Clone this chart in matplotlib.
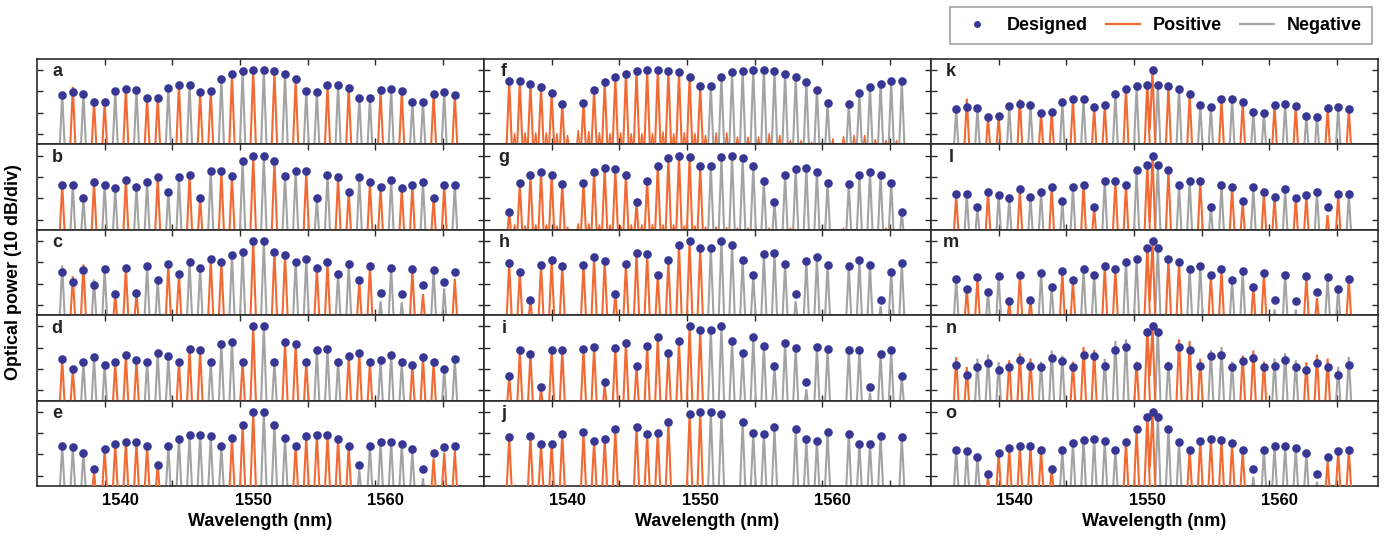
import numpy as np
import matplotlib
matplotlib.use("Agg")
import matplotlib.pyplot as plt
from matplotlib.lines import Line2D

nan = float("nan")

# ---------------- data ----------------
wavelength = [1535.6, 1536.4, 1537.2, 1538.0, 1538.8, 1539.6, 1540.4, 1541.2,
              1542.0, 1542.8, 1543.6, 1544.4, 1545.2, 1546.0, 1546.8, 1547.6,
              1548.4, 1549.2, 1550.0, 1550.8, 1551.6, 1552.4, 1553.2, 1554.0,
              1554.8, 1555.6, 1556.4, 1557.2, 1558.0, 1558.8, 1559.6, 1560.4,
              1561.2, 1562.0, 1562.8, 1563.6, 1564.4, 1565.2]
center_wavelength = 1550.4          # extra centre tap in panels k-o

a_designed = [-11.5, -10.2, -11.0, -14.9, -14.8, -10.0, -8.9, -9.4, -13.3, -12.9, -8.2, -6.8, -6.9, -10.4, -9.6, -4.2, -1.9, -0.5, 0.0,
              0.0, -0.5, -1.9, -4.2, -9.6, -10.4, -6.9, -6.8, -8.2, -12.9, -13.3, -9.4, -8.9, -10.0, -14.8, -14.9, -11.0, -10.2, -11.5]
a_sign = "-+-++-+-++-+-++-+-+" "-+-+--+-+--+-+--+-+"
a_fix = {1: -7.8}

b_designed = [-13.7, -13.7, -19.9, -12.6, -13.7, -15.4, -11.3, -14.6, -12.6, -10.2, -17.0, -10.2, -8.9, -19.9, -7.4, -7.4, -9.4, -2.4, 0.0,
              0.0, -2.4, -9.4, -7.4, -7.4, -19.9, -8.9, -10.2, -17.0, -10.2, -12.6, -14.6, -11.3, -15.4, -13.7, -12.6, -19.9, -13.7, -13.7]
b_sign = "+--+--+--+--++-++-+" "-+--+--++-++-++-++-"
b_fix = {}

c_designed = [-14.6, -19.2, -13.8, -20.7, -13.3, -24.8, -12.6, -24.2, -11.8, -18.5, -11.0, -15.4, -10.0, -12.9, -8.6, -9.7, -6.4, -5.2, 0.0,
              0.0, -5.2, -6.4, -9.7, -8.6, -12.9, -10.0, -15.4, -11.0, -18.5, -11.8, -24.2, -12.6, -24.8, -13.3, -20.7, -13.8, -19.2, -14.6]
c_sign = "-++--+++--++--++--+" "-++--++--++---++--+"
c_fix = {0: -11.5, 1: -16.5, 2: -11.0, 3: -18.1, 30: -28.3, 32: -28.7, 34: -24.8, 36: -22.3, 37: -17.7}

d_designed = [-15.5, -19.9, -16.8, -14.6, -17.9, -16.8, -13.5, -15.9, -16.6, -12.4, -13.8, -16.5, -10.8, -11.1, -16.5, -8.5, -7.5, -16.5, 0.0,
              0.0, -16.5, -7.5, -8.5, -16.5, -11.1, -10.8, -16.5, -13.8, -12.4, -16.6, -15.9, -13.5, -16.8, -17.9, -14.6, -16.8, -19.9, -15.5]
d_sign = "++---+++---+++---++" "--+++---+++---+++--"
d_fix = {}

e_designed = [-16.0, -16.6, -19.2, -27.0, -17.6, -15.1, -14.1, -14.3, -16.0, -25.0, -16.2, -12.7, -11.1, -10.8, -11.5, -16.0, -12.4, -6.3, 0.0,
              0.0, -6.3, -12.4, -16.0, -11.5, -10.8, -11.1, -12.7, -16.2, -25.0, -16.0, -14.3, -14.1, -15.1, -17.6, -27.0, -19.2, -16.6, -16.0]
e_sign = "---+++++++------+++" "---++++++-------+++"
e_fix = {3: -28.1, 28: -27.5, 33: -18.7, 34: -31.2, 35: -21.8, 36: -19.2, 37: -18.4}

f_designed = [-5.2, -5.2, -6.3, -7.7, -10.5, -15.9, nan, -15.4, -9.1, -5.5, -3.3, -1.7, -0.6, 0.0, 0.0, -0.3, -1.1, -3.0, -7.5,
              -7.5, -3.0, -1.1, -0.3, 0.0, 0.0, -0.6, -1.7, -3.3, -5.5, -9.1, -15.4, nan, -15.9, -10.5, -7.7, -6.3, -5.2, -5.2]
f_sign = "+++++++++++++++++++" "-------------------"
f_fix = {}
f_floor_noise = [-29.8, -29.4, -29.4, -29.4, -29.8, -30.6, -28.3, -28.8, -29.4, -29.8, -29.4, -29.8, -29.8, -29.8, -29.0, -29.8, -29.4, -29.8,
                 -30.6,
                 -29.4, -29.4, -31.4, -31.4, -31.4, -29.8, -30.6, -33.0, -33.0, -33.8, -34.0, -32.2, -31.2, -30.6, -30.6, -32.6, -33.0, -33.0]

g_designed = [-26.4, -12.9, -8.9, -7.7, -8.9, -13.3, nan, -12.7, -7.5, -5.7, -6.1, -9.1, -22.0, -11.8, -4.7, -1.4, 0.0, -0.8, -4.9,
              -4.9, -0.8, 0.0, -1.4, -4.7, -11.8, -22.0, -9.1, -6.1, -5.7, -7.5, -12.7, nan, -13.3, -8.9, -7.7, -8.9, -12.9, -26.4]
g_sign = "+++++++++++++++++++" "-------------------"
g_fix = {}
g_floor_noise = [-32.5, -33.0, -32.5, -32.5, -33.0, -33.5, -32.0, -32.0, -32.5, -32.5, -33.0, -32.5, -32.5, -32.5, -32.5, -32.5, -33.0, -33.0,
                 -33.5,
                 -33.5, -33.8, -34.0, -34.0, nan, -34.0, nan, -34.0, nan, nan, -34.0, nan, -34.0, nan, nan, nan, -34.0, nan]

h_designed = [-10.2, -14.4, -27.6, -11.5, -8.9, -11.9, nan, -11.3, -7.7, -9.4, -24.8, -10.8, -5.7, -6.3, -16.0, -9.1, -1.9, 0.0, -3.1,
              -3.1, 0.0, -1.9, -9.1, -16.0, -6.3, -5.7, -10.8, -24.8, -9.4, -7.7, -11.3, nan, -11.9, -8.9, -11.5, -27.6, -14.4, -10.2]
h_sign = f_sign
h_fix = {27: -28.3, 35: -30.6}

i_designed = [-23.4, -11.3, -12.9, -28.3, -11.1, -11.1, nan, -10.5, -9.6, -26.2, -10.0, -7.7, -18.7, -9.1, -5.0, -12.6, -7.1, 0.0, -1.7,
              -1.7, 0.0, -7.1, -12.6, -5.0, -9.1, -18.7, -7.7, -10.0, -26.2, -9.6, -10.5, nan, -11.1, -11.1, -28.3, -12.9, -11.3, -23.4]
i_sign = f_sign
i_fix = {3: -28.9, 9: -27.3, 28: -29.4, 34: -31.2}

j_designed = [-11.8, nan, -11.3, -15.2, -14.9, -10.4, nan, -9.7, -13.5, -13.0, -8.3, nan, -7.2, -10.5, -9.9, -4.6, nan, -1.0, 0.0,
              0.0, -1.0, nan, -4.6, -9.9, -10.5, -7.2, nan, -8.3, -13.0, -13.5, -9.7, nan, -10.4, -14.9, -15.2, -11.3, nan, -11.8]
j_sign = f_sign
j_fix = {}

k_designed = [-18.4, -17.3, -17.9, -21.8, -21.5, -17.0, -15.9, -16.2, -20.1, -19.6, -15.1, -13.5, -13.7, -17.3, -16.5, -11.3, -8.8, -7.5, -6.8,
              -6.8, -7.5, -8.8, -11.3, -16.5, -17.3, -13.7, -13.5, -15.1, -19.6, -20.1, -16.2, -15.9, -17.0, -21.5, -21.8, -17.9, -17.3, -18.4]
k_sign = a_sign
k_fix = {1: -13.4, 6: -13.6}

l_designed = [-18.2, -18.2, -24.3, -17.0, -18.5, -19.9, -15.9, -19.3, -17.1, -14.9, -21.5, -14.6, -13.7, -24.3, -11.8, -11.8, -14.0, -6.9, -4.6,
              -4.6, -6.9, -14.0, -11.8, -11.8, -24.3, -13.7, -14.6, -21.5, -14.9, -17.1, -19.3, -15.9, -19.9, -18.5, -17.0, -24.3, -18.2, -18.2]
l_sign = b_sign
l_fix = {35: -27.9}

m_designed = [-17.7, -22.3, -17.1, -24.0, -16.5, -28.1, -15.9, -27.5, -15.1, -21.8, -14.3, -18.5, -13.3, -15.9, -11.9, -13.0, -9.7, -8.5, -3.1,
              -3.1, -8.5, -9.7, -13.0, -11.9, -15.9, -13.3, -18.5, -14.3, -21.8, -15.1, -27.5, -15.9, -28.1, -16.5, -24.0, -17.1, -22.3, -17.7]
m_sign = c_sign
m_fix = {30: -32.2, 32: -32.2, 34: -26.7}

n_designed = [-17.9, -22.6, -19.2, -17.0, -20.3, -19.2, -16.0, -18.4, -19.0, -14.9, -16.3, -19.0, -13.3, -14.0, -18.8, -11.0, -9.9, -18.8, -2.7,
              -2.7, -18.8, -9.9, -11.0, -18.8, -14.0, -13.3, -19.0, -16.3, -14.9, -19.0, -18.4, -16.0, -19.2, -20.3, -17.0, -19.2, -22.6, -17.9]
n_sign = d_sign
n_measured = [-14.4, -19.0, -15.1, -13.2, -16.8, -15.9, -12.7, -15.1, -16.5, -11.3, -13.7, -16.5, -9.7, -11.1, -15.2, -6.9, -6.1, -16.5, -1.5,
              -1.5, -16.5, -6.1, -6.9, -15.2, -11.1, -9.7, -16.5, -13.7, -11.3, -16.5, -15.1, -12.7, -15.9, -16.8, -13.2, -15.1, -19.0, -14.4]

o_designed = [-17.9, -18.5, -21.0, -29.0, -19.5, -17.0, -16.2, -16.2, -18.1, -26.8, -18.1, -14.8, -13.2, -12.7, -13.5, -17.9, -14.3, -8.2, -2.4,
              -2.4, -8.2, -14.3, -17.9, -13.5, -12.7, -13.2, -14.8, -18.1, -26.8, -18.1, -16.2, -16.2, -17.0, -19.5, -29.0, -21.0, -18.5, -17.9]
o_sign = e_sign
o_fix = {3: -30.5, 28: -30.5, 34: -32.8, 35: -23.4}

center_peak = {"k": 0.0, "l": 0.0, "m": 0.0, "n": 0.0, "o": 0.0}
center_dip = {"k": -27.5, "l": -31.0, "m": -28.0, "n": -23.0, "o": -26.0}

x_tick_labels = [1540, 1550, 1560]
x_tick_marks = [1538.8, 1543.9, 1549.0, 1554.1, 1559.2, 1564.3]
y_ticks = [-30, -20, -10, 0]

# ---------------- style ----------------
ORANGE = "#F26A33"
GRAY = "#A3A3A3"
DOT = "#383894"
FRAME = "#2b2b2b"
FONT = "Liberation Sans"
plt.rcParams["font.family"] = [FONT, "DejaVu Sans"]
plt.rcParams["font.weight"] = "bold"

W, H = 1392, 544
fig = plt.figure(figsize=(W / 100, H / 100), dpi=100)

col_left = [37, 484, 931]
col_w = 447
row_top = 59
row_h = 85.4
XLIM = (1533.7, 1567.4)
YLIM = (-34.8, 5.2)
HW = 0.26       # half width (nm) of a drawn channel peak at its floor
FLOOR = -45.0
LW = 1.5


def traces(xs, peaks, hw, floor):
    X, Y = [], []
    for x, p in zip(xs, peaks):
        if np.isnan(p):
            continue
        X += [x - hw, x, x + hw, nan]
        Y += [floor, p, floor, nan]
    return X, Y


panels = [
    ("a", a_designed, a_sign, a_fix, None, None),
    ("b", b_designed, b_sign, b_fix, None, None),
    ("c", c_designed, c_sign, c_fix, None, None),
    ("d", d_designed, d_sign, d_fix, None, None),
    ("e", e_designed, e_sign, e_fix, None, None),
    ("f", f_designed, f_sign, f_fix, None, f_floor_noise),
    ("g", g_designed, g_sign, g_fix, None, g_floor_noise),
    ("h", h_designed, h_sign, h_fix, None, None),
    ("i", i_designed, i_sign, i_fix, None, None),
    ("j", j_designed, j_sign, j_fix, None, None),
    ("k", k_designed, k_sign, k_fix, None, None),
    ("l", l_designed, l_sign, l_fix, None, None),
    ("m", m_designed, m_sign, m_fix, None, None),
    ("n", n_designed, n_sign, {}, n_measured, None),
    ("o", o_designed, o_sign, o_fix, None, None),
]

wl = np.array(wavelength)
for idx, (name, designed, sign, fix, measured_full, noise) in enumerate(panels):
    col, row = divmod(idx, 5)
    left = col_left[col] / W
    bottom = 1 - (row_top + (row + 1) * row_h) / H
    ax = fig.add_axes([left, bottom, col_w / W, row_h / H])

    des = np.array(designed, dtype=float)
    if measured_full is not None:
        meas = np.array(measured_full, dtype=float)
    else:
        meas = des.copy()
        for ch, v in fix.items():
            meas[ch] = v
    pos = np.array([s == "+" for s in sign])

    if noise is not None:
        mids = (wl[:-1] + wl[1:]) / 2
        X, Y = traces(mids, np.array(noise, dtype=float), 0.12, -36.5)
        ax.plot(X, Y, color=ORANGE, lw=1.1, zorder=1.5)

    # negative (gray) channels
    X, Y = traces(wl[~pos], meas[~pos], HW, FLOOR)
    ax.plot(X, Y, color=GRAY, lw=LW, zorder=2, solid_joinstyle="miter")
    # positive (orange) channels
    X, Y = traces(wl[pos], meas[pos], HW, FLOOR)
    ax.plot(X, Y, color=ORANGE, lw=LW, zorder=3, solid_joinstyle="miter")

    if name in center_peak:
        ch18 = 18
        cx = [wl[ch18], (wl[ch18] + center_wavelength) / 2, center_wavelength, center_wavelength + HW]
        cy = [meas[ch18], center_dip[name], center_peak[name], FLOOR]
        ax.plot(cx, cy, color=ORANGE, lw=LW, zorder=3)
        ax.plot([center_wavelength], [center_peak[name]], "o", ms=6.2,
                color=DOT, mec="none", zorder=5, clip_on=False)

    ax.plot(wl, des, "o", ms=6.2, color=DOT, mec="none", zorder=5, clip_on=False)

    ax.set_xlim(*XLIM)
    ax.set_ylim(*YLIM)
    ax.set_yticks(y_ticks)
    ax.tick_params(axis="y", direction="in", length=4.5, width=1.0, left=True,
                   right=True, labelleft=False, color=FRAME)
    ax.set_xticks(x_tick_labels)
    ax.set_xticks(x_tick_marks, minor=True)
    ax.tick_params(axis="x", which="major", length=0, labelsize=12, pad=5)
    ax.tick_params(axis="x", which="minor", direction="in", length=4.5, width=1.0,
                   top=True, bottom=True, color=FRAME)
    for sp in ax.spines.values():
        sp.set_linewidth(1.2)
        sp.set_color(FRAME)
    ax.text(0.045, 0.85, name, transform=ax.transAxes, fontsize=13,
            fontweight="bold", ha="center", va="center", color="#222222", zorder=6)
    if row == 4:
        ax.set_xlabel("Wavelength (nm)", fontsize=13, fontweight="bold", labelpad=4)
    else:
        ax.tick_params(axis="x", which="major", labelbottom=False)

fig.text(14 / W, 1 - 272 / H, "Optical power (10 dB/div)", rotation=90,
         ha="center", va="center", fontsize=13, fontweight="bold")

handles = [
    Line2D([], [], marker="o", ls="none", color=DOT, mec="none", ms=5),
    Line2D([], [], color=ORANGE, lw=1.6),
    Line2D([], [], color=GRAY, lw=1.6),
]
leg = fig.legend(handles, ["Designed", "Positive", "Negative"], loc="upper right",
                 bbox_to_anchor=(1372 / W, 1 - 7 / H), borderaxespad=0, ncol=3,
                 frameon=True, fancybox=False, edgecolor="#8a8a8a", fontsize=13,
                 handlelength=1.9, columnspacing=1.0, handletextpad=0.7,
                 borderpad=0.55)
leg.get_frame().set_linewidth(1.2)
for t in leg.get_texts():
    t.set_fontweight("bold")

fig.savefig("out.png", dpi=100)
